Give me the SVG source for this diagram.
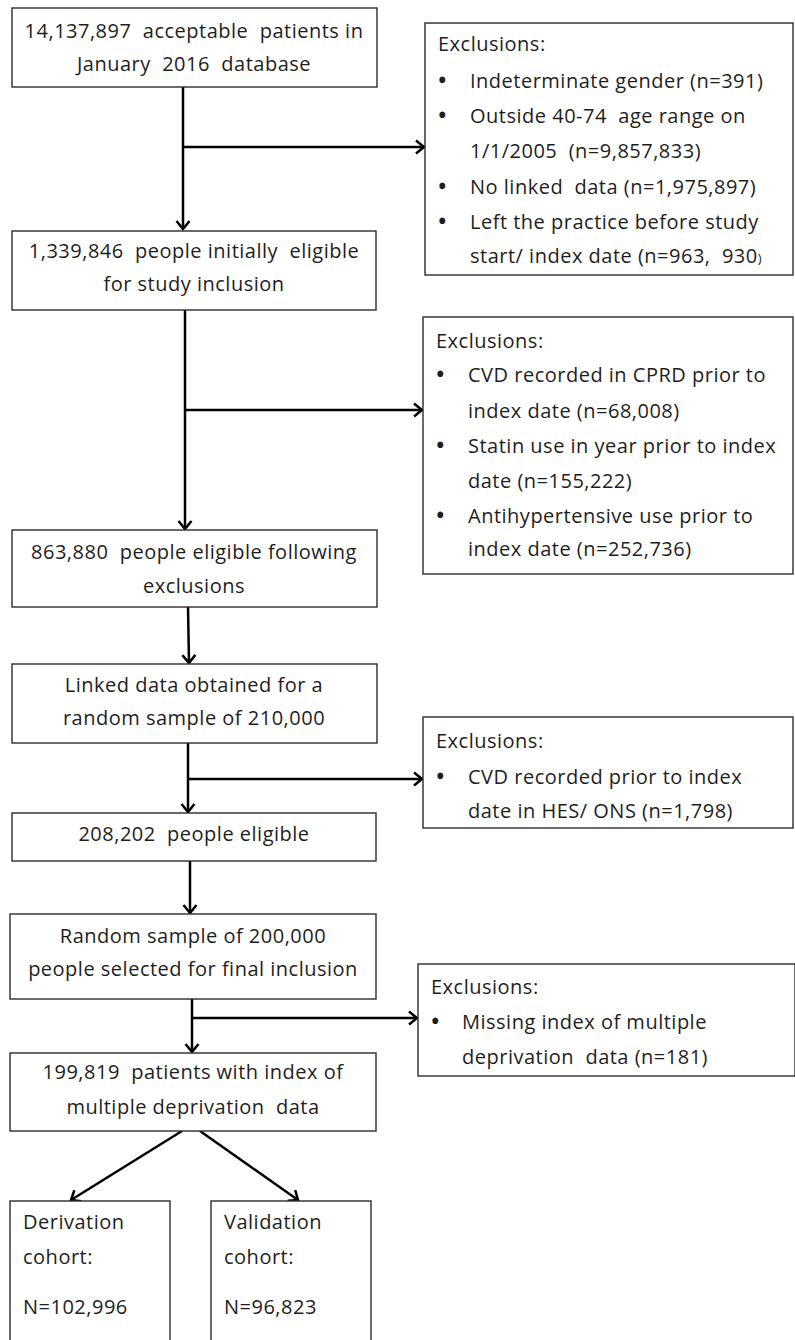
<svg xmlns="http://www.w3.org/2000/svg" width="795" height="1340" viewBox="0 0 795 1340">
<style>
.box{fill:#fff;stroke:#2b2b2b;stroke-width:1.4}
text{font-family:"Open Sans",Lato,sans-serif;font-size:20px;letter-spacing:0.5px;fill:#1e1e1e;white-space:pre}
.c{text-anchor:middle}
.b{font-size:28px;letter-spacing:0}
.con{fill:none;stroke:#000;stroke-width:2.5}
</style>
<defs>
<marker id="ah" viewBox="0 0 16 16" refX="14" refY="8" markerWidth="16" markerHeight="16" markerUnits="userSpaceOnUse" orient="auto">
<path d="M6,1.5 L14,8 L6,14.5" fill="none" stroke="#000" stroke-width="2.5"/>
</marker>
</defs>
<rect width="795" height="1340" fill="#fff"/>

<g id="connectors">
<path class="con" d="M183,87 V229" marker-end="url(#ah)"/>
<path class="con" d="M183,147 H424" marker-end="url(#ah)"/>
<path class="con" d="M185,310 V529" marker-end="url(#ah)"/>
<path class="con" d="M185,410 H422" marker-end="url(#ah)"/>
<path class="con" d="M188,607 L189,663" marker-end="url(#ah)"/>
<path class="con" d="M188,743 V812" marker-end="url(#ah)"/>
<path class="con" d="M188,779 H422" marker-end="url(#ah)"/>
<path class="con" d="M190,861 V913" marker-end="url(#ah)"/>
<path class="con" d="M192,999 V1052" marker-end="url(#ah)"/>
<path class="con" d="M192,1018 H417" marker-end="url(#ah)"/>
<path class="con" d="M182,1131 L71,1200" marker-end="url(#ah)"/>
<path class="con" d="M200,1131 L298,1200" marker-end="url(#ah)"/>
</g>

<g id="n1">
<rect class="box" x="12" y="8" width="365" height="79"/>
<text class="c" x="194" y="38" xml:space="preserve">14,137,897  acceptable  patients in</text>
<text class="c" x="194" y="71" xml:space="preserve">January  2016  database</text>
</g>

<g id="n2">
<rect class="box" x="12" y="231" width="364" height="79"/>
<text class="c" x="194" y="258" xml:space="preserve">1,339,846  people initially  eligible</text>
<text class="c" x="194" y="291">for study inclusion</text>
</g>

<g id="ex1">
<rect class="box" x="425" y="23" width="368" height="252"/>
<text x="438" y="51">Exclusions:</text>
<text class="b" x="437" y="90">•</text><text x="470" y="88">Indeterminate gender (n=391)</text>
<text class="b" x="437" y="125">•</text><text x="470" y="123" xml:space="preserve">Outside 40-74  age range on</text>
<text x="470" y="158" xml:space="preserve">1/1/2005  (n=9,857,833)</text>
<text class="b" x="437" y="196">•</text><text x="470" y="194" xml:space="preserve">No linked  data (n=1,975,897)</text>
<text class="b" x="437" y="231">•</text><text x="470" y="229">Left the practice before study</text>
<text x="470" y="263" xml:space="preserve">start/ index date (n=963,  930<tspan font-size="13">)</tspan></text>
</g>

<g id="ex2">
<rect class="box" x="423" y="317" width="370" height="257"/>
<text x="436" y="348">Exclusions:</text>
<text class="b" x="435" y="384">•</text><text x="468" y="382">CVD recorded in CPRD prior to</text>
<text x="468" y="418">index date (n=68,008)</text>
<text class="b" x="435" y="455">•</text><text x="468" y="453">Statin use in year prior to index</text>
<text x="468" y="488">date (n=155,222)</text>
<text class="b" x="435" y="525">•</text><text x="468" y="523">Antihypertensive use prior to</text>
<text x="468" y="556">index date (n=252,736)</text>
</g>

<g id="n3">
<rect class="box" x="12" y="530" width="365" height="77"/>
<text class="c" x="194" y="559" xml:space="preserve">863,880  people eligible following</text>
<text class="c" x="194" y="593">exclusions</text>
</g>

<g id="n4">
<rect class="box" x="12" y="664" width="365" height="79"/>
<text class="c" x="194" y="692">Linked data obtained for a</text>
<text class="c" x="194" y="725">random sample of 210,000</text>
</g>

<g id="ex3">
<rect class="box" x="423" y="717" width="370" height="111"/>
<text x="436" y="748">Exclusions:</text>
<text class="b" x="435" y="786">•</text><text x="468" y="784">CVD recorded prior to index</text>
<text x="468" y="818">date in HES/ ONS (n=1,798)</text>
</g>

<g id="n5">
<rect class="box" x="12" y="813" width="364" height="48"/>
<text class="c" x="194" y="841" xml:space="preserve">208,202  people eligible</text>
</g>

<g id="n6">
<rect class="box" x="10" y="914" width="366" height="85"/>
<text class="c" x="193" y="943">Random sample of 200,000</text>
<text class="c" x="193" y="976">people selected for final inclusion</text>
</g>

<g id="ex4">
<rect class="box" x="418" y="964" width="377" height="112"/>
<text x="431" y="994">Exclusions:</text>
<text class="b" x="430" y="1031">•</text><text x="462" y="1029">Missing index of multiple</text>
<text x="462" y="1064" xml:space="preserve">deprivation  data (n=181)</text>
</g>

<g id="n7">
<rect class="box" x="10" y="1053" width="366" height="78"/>
<text class="c" x="193" y="1079" xml:space="preserve">199,819  patients with index of</text>
<text class="c" x="193" y="1114" xml:space="preserve">multiple deprivation  data</text>
</g>

<g id="n8">
<rect class="box" x="10" y="1201" width="160" height="150"/>
<text x="23" y="1229">Derivation</text>
<text x="23" y="1264">cohort:</text>
<text x="23" y="1314">N=102,996</text>
</g>

<g id="n9">
<rect class="box" x="211" y="1201" width="160" height="150"/>
<text x="224" y="1229">Validation</text>
<text x="224" y="1264">cohort:</text>
<text x="224" y="1314">N=96,823</text>
</g>
</svg>
